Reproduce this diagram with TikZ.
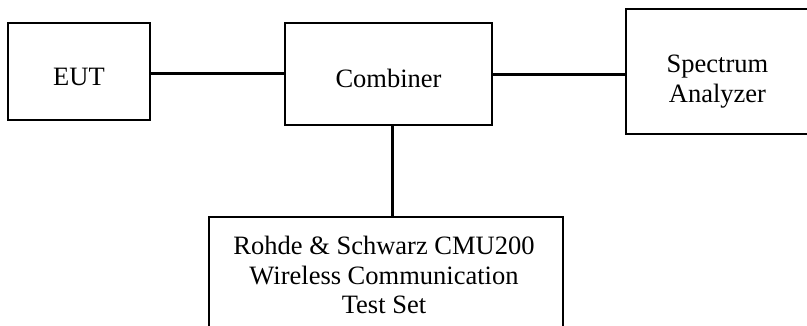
\documentclass[tikz,border=0pt]{standalone}
\usepackage{fontspec}
\setmainfont{Liberation Serif}
\usetikzlibrary{positioning}

\begin{document}
\begin{tikzpicture}[
    x=1pt, y=1pt,
    font=\fontsize{26.5}{29.5}\selectfont,
    unit/.style={draw, line width=2pt, inner sep=0pt},
    caption/.style={align=center, inner sep=0pt},
    link/.style={line width=3pt}
]
\useasboundingbox (0,0) rectangle (807,-325);

\node[unit, minimum width=142pt, minimum height=97pt] (eut) at (79,-71.5) {};
\node[unit, minimum width=207pt, minimum height=102pt, right=133pt of eut, yshift=-2.5pt] (comb) {};
\node[unit, minimum width=183pt, minimum height=125pt, right=132pt of comb, yshift=2.5pt] (spec) {};
\node[unit, minimum width=354pt, minimum height=116pt, below=90pt of comb, xshift=-2.5pt] (cmu) {};

% texts, set a little below the middle as in the drawing
\node[caption, yshift=-5pt] (eutText) at (eut.center) {EUT};
\node[caption, yshift=-4pt] (combText) at (comb.center) {Combiner};
\node[caption, yshift=-10pt] (specText) at (spec.center) {Spectrum\\Analyzer};
\node[caption, xshift=-2pt] (cmuText) at (cmu.center) {Rohde \& Schwarz CMU200\\Wireless Communication\\Test Set};

% connections
\draw[link] ([yshift=-2pt]eut.east) -- ([yshift=-2pt]eut.east -| comb.west);
\draw[link] (comb.east) -- (comb.east -| spec.west);
\draw[link] ([xshift=3.5pt]comb.south) -- ([xshift=3.5pt]comb.south |- cmu.north);
\end{tikzpicture}
\end{document}
